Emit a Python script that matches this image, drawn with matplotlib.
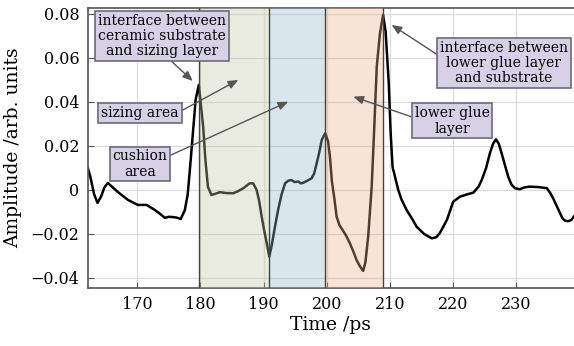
import matplotlib
matplotlib.use("Agg")
import matplotlib.pyplot as plt

time_ps = [162.2, 162.6, 163.2, 163.73, 164.3, 164.8, 165.36, 166.0, 166.94,
           168.53, 170.1, 171.5, 172.8, 173.6, 174.4, 175.0, 175.6, 176.3,
           176.9, 177.55, 178.0, 178.34, 178.9, 179.25, 179.75, 180.0, 180.45,
           180.8, 181.2, 181.75, 182.3, 183.1, 184.0, 185.2, 186.0, 186.8,
           187.8, 188.35, 188.9, 189.3, 189.7, 190.1, 190.5, 190.9, 191.3,
           191.8, 192.3, 192.85, 193.4, 193.9, 194.4, 194.9, 195.5, 195.9,
           196.3, 196.9, 197.6, 198.0, 198.4, 198.8, 199.2, 199.75, 200.2,
           200.5, 200.8, 201.2, 201.55, 202.0, 202.4, 203.0, 203.65, 204.2,
           204.7, 205.2, 205.75, 206.1, 206.55, 207.1, 207.5, 207.9, 208.4,
           208.9, 209.3, 209.8, 210.1, 210.4, 211.3, 211.84, 212.6, 213.6,
           214.2, 215.4, 216.6, 217.3, 217.9, 219.0, 220.0, 221.1, 222.2,
           223.2, 224.0, 224.5, 225.2, 225.8, 226.3, 226.75, 227.2, 227.65,
           228.2, 228.7, 229.2, 229.75, 230.5, 231.3, 232.1, 233.5, 234.8,
           235.3, 235.8, 236.4, 236.9, 237.3, 237.7, 238.2, 238.7, 239.1]
amplitude = [0.0100, 0.0060, -0.0020, -0.0059, -0.0030, 0.0010, 0.0032, 0.0015,
             -0.0009, -0.0045, -0.0068, -0.0068, -0.0091, -0.0108, -0.0127,
             -0.0122, -0.0123, -0.0126, -0.0132, -0.0091, -0.0020, 0.0091,
             0.0286, 0.0410, 0.0477, 0.0410, 0.0286, 0.0136, 0.0014, -0.0023,
             -0.0018, -0.0010, -0.0014, -0.0015, -0.0005, 0.0008, 0.0030,
             0.0030, 0.0000, -0.0050, -0.0121, -0.0185, -0.0242, -0.0303,
             -0.0250, -0.0167, -0.0090, -0.0020, 0.0030, 0.0042, 0.0045, 0.0036,
             0.0038, 0.0030, 0.0033, 0.0042, 0.0053, 0.0075, 0.0121, 0.0170,
             0.0227, 0.0258, 0.0220, 0.0150, 0.0040, -0.0040, -0.0121, -0.0160,
             -0.0178, -0.0205, -0.0242, -0.0280, -0.0318, -0.0345, -0.0368,
             -0.0330, -0.0210, 0.0015, 0.0280, 0.0560, 0.0710, 0.0795, 0.0720,
             0.0486, 0.0260, 0.0105, 0.0000, -0.0045, -0.0090, -0.0136, -0.0167,
             -0.0200, -0.0220, -0.0215, -0.0195, -0.0136, -0.0053, -0.0030,
             -0.0020, -0.0012, 0.0015, 0.0045, 0.0100, 0.0167, 0.0210, 0.0230,
             0.0210, 0.0167, 0.0110, 0.0060, 0.0025, 0.0008, 0.0003, 0.0012,
             0.0015, 0.0013, 0.0008, -0.0012, -0.0038, -0.0075, -0.0106, -0.0130,
             -0.0140, -0.0142, -0.0136, -0.0120]

# layer regions (start, end, colour)
region_edges = [179.75, 190.9, 199.75, 208.9]
region_colors = ["#c3c8a6", "#92b8ce", "#ebb28a"]

# annotations: text, box centre, arrow tip, arrow start on box
notes = [
    ("interface between\nceramic substrate\nand sizing layer", (173.9, 0.0700), (178.8, 0.0495), (0.55, 0.0)),
    ("sizing area", (170.45, 0.0350), (186.0, 0.0500), (1.0, 0.55)),
    ("cushion\narea", (170.45, 0.0118), (193.9, 0.0401), (1.0, 0.75)),
    ("interface between\nlower glue layer\nand substrate", (228.0, 0.0577), (210.25, 0.0750), (0.0, 0.65)),
    ("lower glue\nlayer", (219.8, 0.0314), (204.2, 0.0424), (0.0, 0.6)),
]

plt.rcParams["font.family"] = ["DejaVu Serif"]
fig = plt.figure(figsize=(5.74, 3.46), dpi=100)
ax = fig.add_axes([0.153, 0.168, 0.847, 0.809])

ax.plot(time_ps, amplitude, color="black", lw=1.8, zorder=2)

for i in range(3):
    ax.axvspan(region_edges[i], region_edges[i + 1], color=region_colors[i],
               alpha=0.35, lw=0, zorder=3)
for e in region_edges:
    ax.axvline(e, color="#444444", lw=1.0, zorder=4)

for txt, xy_text, xy_tip, rp in notes:
    ax.annotate(txt, xy=xy_tip, xytext=xy_text, ha="center", va="center",
                fontsize=10, linespacing=1.12, zorder=6,
                bbox=dict(boxstyle="square,pad=0.2", fc="#d6d1e6", ec="#6c6c7a", lw=1.2),
                arrowprops=dict(arrowstyle="-|>,head_length=0.6,head_width=0.25",
                                color="#555555", lw=1.0, relpos=rp, shrinkA=0, shrinkB=0))

ax.set_xlim(162.2, 239.1)
ax.set_ylim(-0.0445, 0.0827)
ax.set_xticks([170, 180, 190, 200, 210, 220, 230])
ax.set_yticks([-0.04, -0.02, 0, 0.02, 0.04, 0.06, 0.08])
ax.set_yticklabels(["\u22120.04", "\u22120.02", "0", "0.02", "0.04", "0.06", "0.08"])
ax.grid(True, color="#dcdcdc", lw=0.9, zorder=0)
ax.set_axisbelow(True)
ax.tick_params(direction="in", length=4, color="#555555", labelsize=11.5, pad=6)
for s in ["left", "bottom", "top"]:
    ax.spines[s].set_color("#555555")
    ax.spines[s].set_linewidth(1.2)
ax.spines["right"].set_visible(False)

ax.set_xlabel("Time /ps", fontsize=13.5, labelpad=2)
ax.set_ylabel("Amplitude /arb. units", fontsize=13.5, labelpad=6)

fig.savefig("out.png", dpi=100)
